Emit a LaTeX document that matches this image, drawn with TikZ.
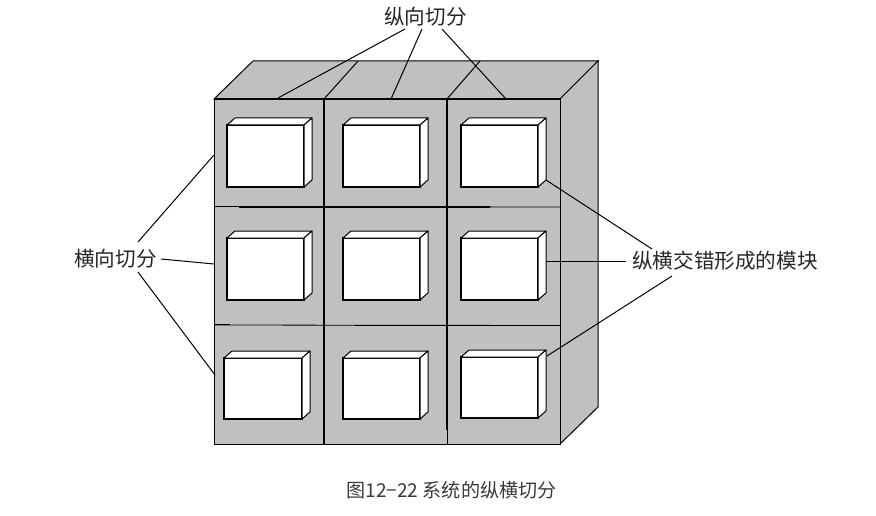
\documentclass[tikz,border=0pt]{standalone}
\usepackage{fontspec}
\setmainfont{Noto Sans CJK SC}
\usetikzlibrary{calc}
\definecolor{wallgray}{HTML}{C0C0C0}
\definecolor{capgray}{HTML}{3A3A3A}
\newcommand{\modbox}[5]{% name, left, top of front, width, height
  \node[modfront,minimum width=#4pt,minimum height=#5pt,anchor=north west] (#1) at (#2,#3) {};
  \draw[modedge] (#1.north west) -- ++(8,-7) -- ++(#4,0) -- ++(-8,7) -- cycle;
  \draw[modedge] (#1.north east) -- ++(8,-7) -- ++(0,#5) coordinate (#1-c) -- (#1.south east) -- cycle;
  \coordinate (#1-t) at ($(#1.north east)+(8,-7)$);
  \coordinate (#1-m) at ($(#1.east)+(8,-8)$);
}
\tikzset{
  wall/.style={fill=wallgray,draw=black,line width=1pt,line join=miter},
  modfront/.style={draw=black,fill=white,line width=1.2pt,inner sep=0pt,outer sep=0pt},
  modedge/.style={draw=black,fill=white,line width=1pt,line join=round},
  thickdiv/.style={draw=black,line width=1.7pt},
  thindiv/.style={draw=black,line width=.8pt},
  leader/.style={draw=black,line width=1pt},
  biglabel/.style={font=\fontsize{20.6}{22}\selectfont,inner sep=0pt,text=black!85},
  caption/.style={font=\fontsize{19.1}{21}\selectfont,inner sep=0pt,text=capgray},
}
\begin{document}
\begin{tikzpicture}[x=1pt,y=-1pt]
\useasboundingbox (0,0) rectangle (876,516);
% solid
\draw[wall] (214,99) -- (253,61) -- (598,61) -- (560,99) -- cycle;
\draw[wall] (560,99) -- (598,61) -- (598,407) -- (560,444) -- cycle;
\draw[wall,line width=.9pt] (214,99) rectangle (560,444);
\draw[thickdiv] (214,99) -- (560,99);
\draw[thickdiv] (214,444.5) -- (560,444.5);
% dividers on the top face
\draw[leader] (324,99) -- (358,61);
\draw[leader] (447,99) -- (480,61);
% vertical dividers
\draw[thickdiv] (324,99) -- (324,207);
\draw[thindiv,line width=1.1pt] (324,207) -- (324,444);
\draw[thickdiv] (447,99) -- (447,430);
\draw[thindiv] (447,430) -- (447,444);
% horizontal dividers
\draw[thindiv] (214,206.5) -- (560,207);
\draw[thickdiv] (239,207) -- (490,207);
\draw[thindiv] (214,325) -- (560,325.5);
\draw[thickdiv] (215,324.5) -- (230,324.5);
\draw[thickdiv] (355,325.5) -- (560,325.5);
% modules
\modbox{ma}{227}{125}{77}{62}
\modbox{mb}{343}{125}{77}{62}
\modbox{mc}{461}{125}{77}{62}
\modbox{md}{227}{238}{77}{62}
\modbox{me}{343}{238}{77}{62}
\modbox{mf}{461}{238}{77}{62}
\modbox{mg}{224}{358}{78}{61}
\modbox{mh}{343}{358}{77}{61}
\modbox{mi}{461}{357}{77}{61}
% labels
\node[biglabel] (ltop) at (425.5,17) {纵向切分};
\node[biglabel] (lleft) at (115.5,259) {横向切分};
\node[biglabel] (lright) at (725,261) {纵横交错形成的模块};
\node[caption] (cap) at (451.5,490) {图12−22 系统的纵横切分};
% free ends
\coordinate (ta) at (278,98);
\coordinate (tb) at (391,99);
\coordinate (tc) at (506,99);
\coordinate (la) at (214,155);
\coordinate (lb) at (214,264);
\coordinate (lc) at (215,375);
% leaders
\draw[leader] ($(ltop)+(-20.5,12)$) -- (ta);
\draw[leader] ($(ltop)+(-3.5,12)$) -- (tb);
\draw[leader] ($(ltop)+(16.5,12)$) -- (tc);
\draw[leader] ($(lleft)+(22.5,-17)$) -- (la);
\draw[leader] ($(lleft)+(45.5,0)$) -- (lb);
\draw[leader] ($(lleft)+(22.5,13)$) -- (lc);
\draw[leader] (mc-c) -- ($(lright)+(-73,-12)$);
\draw[leader] (mf-m) -- ($(lright)+(-99,0)$);
\draw[leader] ($(mi-t)+(1,6)$) -- ($(lright)+(-53,15)$);
\end{tikzpicture}
\end{document}
